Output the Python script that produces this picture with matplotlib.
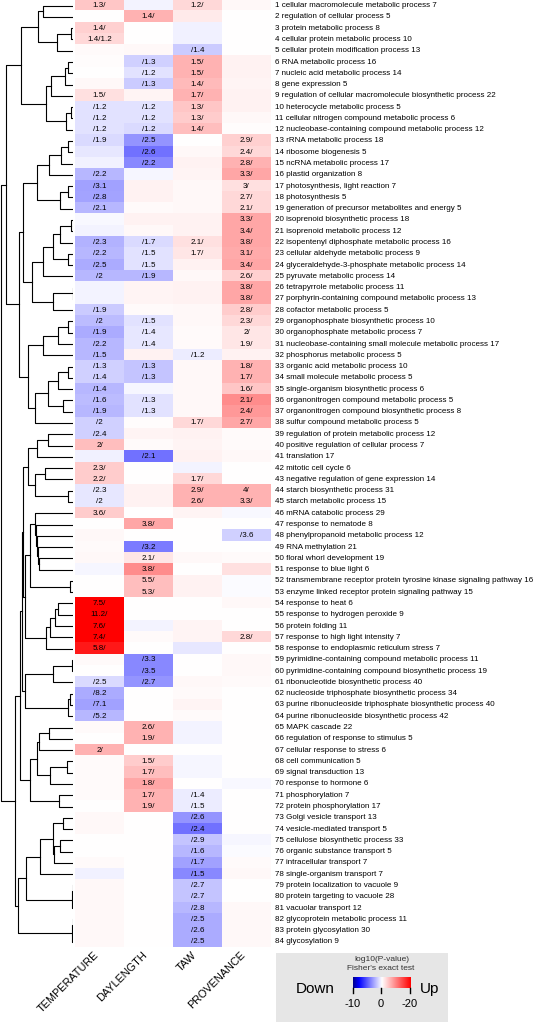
import matplotlib
matplotlib.use('Agg')
import matplotlib.pyplot as plt
import numpy as np
from matplotlib.colors import LinearSegmentedColormap, TwoSlopeNorm

plt.rcParams['font.family'] = ['Liberation Sans', 'DejaVu Sans']

columns = ['TEMPERATURE', 'DAYLENGTH', 'TAW', 'PROVENANCE']

terms = [
    "cellular macromolecule metabolic process 7", "regulation of cellular process 5",
    "protein metabolic process 8", "cellular protein metabolic process 10",
    "cellular protein modification process 13", "RNA metabolic process 16",
    "nucleic acid metabolic process 14", "gene expression 5",
    "regulation of cellular macromolecule biosynthetic process 22", "heterocycle metabolic process 5",
    "cellular nitrogen compound metabolic process 6", "nucleobase-containing compound metabolic process 12",
    "rRNA metabolic process 18", "ribosome biogenesis 5", "ncRNA metabolic process 17",
    "plastid organization 8", "photosynthesis, light reaction 7", "photosynthesis 5",
    "generation of precursor metabolites and energy 5", "isoprenoid biosynthetic process 18",
    "isoprenoid metabolic process 12", "isopentenyl diphosphate metabolic process 16",
    "cellular aldehyde metabolic process 9", "glyceraldehyde-3-phosphate metabolic process 14",
    "pyruvate metabolic process 14", "tetrapyrrole metabolic process 11",
    "porphyrin-containing compound metabolic process 13", "cofactor metabolic process 5",
    "organophosphate biosynthetic process 10", "organophosphate metabolic process 7",
    "nucleobase-containing small molecule metabolic process 17", "phosphorus metabolic process 5",
    "organic acid metabolic process 10", "small molecule metabolic process 5",
    "single-organism biosynthetic process 6", "organonitrogen compound metabolic process 5",
    "organonitrogen compound biosynthetic process 8", "sulfur compound metabolic process 5",
    "regulation of protein metabolic process 12", "positive regulation of cellular process 7",
    "translation 17", "mitotic cell cycle 6", "negative regulation of gene expression 14",
    "starch biosynthetic process 31", "starch metabolic process 15", "mRNA catabolic process 29",
    "response to nematode 8", "phenylpropanoid metabolic process 12", "RNA methylation 21",
    "floral whorl development 19", "response to blue light 6",
    "transmembrane receptor protein tyrosine kinase signaling pathway 16",
    "enzyme linked receptor protein signaling pathway 15", "response to heat 6",
    "response to hydrogen peroxide 9", "protein folding 11", "response to high light intensity 7",
    "response to endoplasmic reticulum stress 7", "pyrimidine-containing compound metabolic process 11",
    "pyrimidine-containing compound biosynthetic process 19", "ribonucleotide biosynthetic process 40",
    "nucleoside triphosphate biosynthetic process 34",
    "purine ribonucleoside triphosphate biosynthetic process 40",
    "purine ribonucleoside biosynthetic process 42", "MAPK cascade 22",
    "regulation of response to stimulus 5", "cellular response to stress 6", "cell communication 5",
    "signal transduction 13", "response to hormone 6", "phosphorylation 7",
    "protein phosphorylation 17", "Golgi vesicle transport 13", "vesicle-mediated transport 5",
    "cellulose biosynthetic process 33", "organic substance transport 5", "intracellular transport 7",
    "single-organism transport 7", "protein localization to vacuole 9", "protein targeting to vacuole 28",
    "vacuolar transport 12", "glycoprotein metabolic process 11", "protein glycosylation 30",
    "glycosylation 9",
]

# cell labels: up/down -log10 p, per row (TEMPERATURE, DAYLENGTH, TAW, PROVENANCE)
labels = [
    ["1.3/", "", "1.2/", ""], ["", "1.4/", "", ""], ["1.4/", "", "", ""], ["1.4/1.2", "", "", ""],
    ["", "", "/1.4", ""], ["", "/1.3", "1.5/", ""], ["", "/1.2", "1.5/", ""], ["", "/1.3", "1.4/", ""],
    ["1.5/", "", "1.7/", ""], ["/1.2", "/1.2", "1.3/", ""], ["/1.2", "/1.2", "1.3/", ""],
    ["/1.2", "/1.2", "1.4/", ""], ["/1.9", "/2.5", "", "2.9/"], ["", "/2.6", "", "2.4/"],
    ["", "/2.2", "", "2.8/"], ["/2.2", "", "", "3.3/"], ["/3.1", "", "", "3/"], ["/2.8", "", "", "2.7/"],
    ["/2.1", "", "", "2.1/"], ["", "", "", "3.3/"], ["", "", "", "3.4/"], ["/2.3", "/1.7", "2.1/", "3.8/"],
    ["/2.2", "/1.5", "1.7/", "3.1/"], ["/2.5", "/1.5", "", "3.4/"], ["/2", "/1.9", "", "2.6/"],
    ["", "", "", "3.8/"], ["", "", "", "3.8/"], ["/1.9", "", "", "2.8/"], ["/2", "/1.5", "", "2.3/"],
    ["/1.9", "/1.4", "", "2/"], ["/2.2", "/1.4", "", "1.9/"], ["/1.5", "", "/1.2", ""],
    ["/1.3", "/1.3", "", "1.8/"], ["/1.4", "/1.3", "", "1.7/"], ["/1.4", "", "", "1.6/"],
    ["/1.6", "/1.3", "", "2.1/"], ["/1.9", "/1.3", "", "2.4/"], ["/2", "", "1.7/", "2.7/"],
    ["/2.4", "", "", ""], ["2/", "", "", ""], ["", "/2.1", "", ""], ["2.3/", "", "", ""],
    ["2.2/", "", "1.7/", ""], ["/2.3", "", "2.9/", "4/"], ["/2", "", "2.6/", "3.3/"],
    ["3.6/", "", "", ""], ["", "3.8/", "", ""], ["", "", "", "/3.6"], ["", "/3.2", "", ""],
    ["", "2.1/", "", ""], ["", "3.8/", "", ""], ["", "5.5/", "", ""], ["", "5.3/", "", ""],
    ["7.5/", "", "", ""], ["11.2/", "", "", ""], ["7.6/", "", "", ""], ["7.4/", "", "", "2.8/"],
    ["5.8/", "", "", ""], ["", "/3.3", "", ""], ["", "/3.5", "", ""], ["/2.5", "/2.7", "", ""],
    ["/8.2", "", "", ""], ["/7.1", "", "", ""], ["/5.2", "", "", ""], ["", "2.6/", "", ""],
    ["", "1.9/", "", ""], ["2/", "", "", ""], ["", "1.5/", "", ""], ["", "1.7/", "", ""],
    ["", "1.8/", "", ""], ["", "1.7/", "/1.4", ""], ["", "1.9/", "/1.5", ""], ["", "", "/2.6", ""],
    ["", "", "/2.4", ""], ["", "", "/2.9", ""], ["", "", "/1.6", ""], ["", "", "/1.7", ""],
    ["", "", "/1.5", ""], ["", "", "/2.7", ""], ["", "", "/2.7", ""], ["", "", "/2.8", ""],
    ["", "", "/2.5", ""], ["", "", "/2.6", ""], ["", "", "/2.5", ""],
]

# colour score per cell (negative = down/blue, positive = up/red)
shade = [
    [0.22, -0.05, 0.15, 0.03], [0.0, 0.3, 0.08, 0.0], [0.18, 0.0, -0.06, 0.0], [0.15, 0.0, -0.06, 0.0],
    [0.02, 0.03, -0.22, 0.0], [0.01, -0.2, 0.3, 0.05], [0.0, -0.12, 0.3, 0.05], [0.03, -0.22, 0.27, 0.04],
    [0.12, 0.04, 0.3, 0.05], [-0.12, -0.12, 0.22, 0.05], [-0.12, -0.12, 0.2, 0.03], [-0.12, -0.15, 0.25, 0.01],
    [-0.15, -0.45, 0.0, 0.18], [-0.1, -0.6, 0.03, 0.15], [-0.06, -0.5, 0.05, 0.3], [-0.3, -0.04, 0.04, 0.35],
    [-0.4, 0.05, 0.03, 0.12], [-0.38, 0.05, 0.03, 0.15], [-0.3, 0.02, 0.03, 0.15], [-0.03, 0.05, 0.05, 0.35],
    [-0.05, 0.03, 0.05, 0.35], [-0.32, -0.15, 0.12, 0.35], [-0.3, -0.12, 0.1, 0.33], [-0.35, -0.12, 0.05, 0.35],
    [-0.3, -0.3, 0.03, 0.18], [-0.05, 0.04, 0.05, 0.35], [-0.05, 0.04, 0.05, 0.35], [-0.22, 0.02, 0.03, 0.2],
    [-0.28, -0.12, 0.03, 0.15], [-0.35, -0.1, 0.02, 0.1], [-0.3, -0.1, 0.02, 0.1], [-0.3, 0.05, -0.08, 0.05],
    [-0.2, -0.25, 0.03, 0.3], [-0.2, -0.25, 0.03, 0.3], [-0.3, -0.04, 0.03, 0.22], [-0.28, -0.12, 0.03, 0.45],
    [-0.3, -0.12, 0.03, 0.4], [-0.2, 0.01, 0.15, 0.35], [-0.2, 0.04, 0.05, 0.02], [0.25, 0.02, 0.04, 0.02],
    [-0.06, -0.6, 0.05, 0.03], [0.2, 0.0, -0.05, 0.0], [0.2, 0.0, 0.15, 0.0], [-0.1, 0.05, 0.3, 0.3],
    [-0.1, 0.05, 0.3, 0.3], [0.2, 0.0, 0.04, -0.03], [0.0, 0.35, 0.0, 0.0], [0.03, 0.0, 0.0, -0.2],
    [0.02, -0.55, 0.0, 0.0], [0.03, 0.1, 0.03, 0.02], [-0.04, 0.45, 0.0, 0.12], [0.0, 0.25, 0.05, -0.02],
    [0.0, 0.25, 0.05, -0.02], [1.0, 0.0, 0.0, 0.03], [1.0, 0.0, 0.0, 0.0], [1.0, -0.05, 0.04, 0.0],
    [1.0, 0.02, 0.04, 0.15], [0.9, 0.0, -0.1, 0.0], [0.02, -0.5, 0.0, 0.03], [0.0, -0.5, 0.0, 0.03],
    [-0.15, -0.45, 0.03, 0.02], [-0.35, 0.0, 0.02, 0.0], [-0.4, 0.0, 0.04, 0.0], [-0.3, 0.0, 0.02, 0.0],
    [0.02, 0.3, -0.05, 0.0], [0.0, 0.3, -0.05, 0.0], [0.3, 0.0, 0.0, 0.0], [0.02, 0.2, -0.04, 0.0],
    [0.02, 0.25, -0.04, 0.0], [0.02, 0.35, 0.0, -0.03], [0.02, 0.3, -0.08, 0.0], [0.0, 0.3, -0.08, 0.0],
    [0.03, 0.0, -0.45, 0.0], [0.03, 0.0, -0.6, 0.0], [0.0, 0.0, -0.25, -0.04], [0.0, 0.0, -0.3, -0.02],
    [0.02, 0.0, -0.4, 0.02], [-0.06, 0.0, -0.5, 0.03], [0.03, 0.0, -0.25, 0.0], [0.03, 0.0, -0.25, 0.0],
    [0.03, 0.0, -0.3, 0.03], [0.03, 0.0, -0.35, 0.03], [0.03, 0.0, -0.35, 0.03], [0.03, 0.0, -0.35, 0.03],
]

# dendrogram: [height, upper, lower], leaves are row numbers
g1 = [52, [35, [30, 1, 2], [16, [2, 3, 4], 5]],
      [27, [22, [8, [5, 6, 7], 8], 9], [7, [2, 10, 11], 12]]]
g2a = [50, [36, [24, [12, [5, 13, 14], 15], 16], [13, [5, 17, 18], 19]],
       [41, [30, [20, [13, [2, 20, 21], 22], [5, 23, 24]], 25], [20, [0.5, 26, 27], 28]]]
g2b = [45, [30, [15, [5, 29, 30], 31], 32],
       [38, [25, [15, [5, 33, 34], 35], [10, 36, 37]], 38]]
g2 = [54, g2a, g2b]
g3a = [51, [50, [45, [36, [25, 39, 40], 41], [38, [28, 42, 43], [5, 44, 45]]],
            [48, [43, [38, 46, [37, 47, [36, 48, [35, 49, [34, 50, 51]]]]], [3, 52, 53]],
             [27, [23, [18, [15, 54, 55], 56], 57], 58]]],
       [48, [20, [1, 59, 60], 61], [5, [3, 62, 63], 64]]]
g3b = [43, [36, [34, [24, 65, 66], 67], [23, [6, 68, 69], 70]], [14, 71, 72]]
g3c = [55, [47, [33, [20, [10, 73, 74], [19, [13, 75, 76], 77]], 78], [1, [0.5, 79, 80], 81]],
       [1, [0.5, 82, 83], 84]]
tree = [72, [67, g1, g2], [58, [53, g3a, g3b], g3c]]

nrow = len(terms)
W, H = 536, 1022
fig = plt.figure(figsize=(W / 100, H / 100), dpi=100)

hm_left, hm_right, hm_top, hm_bot = 75, 271, 0, 947.5
ax = fig.add_axes([hm_left / W, 1 - hm_bot / H, (hm_right - hm_left) / W, (hm_bot - hm_top) / H])
cmap = LinearSegmentedColormap.from_list('bwr2', [(0, '#00008b'), (0.1, '#0000ff'), (0.5, '#ffffff'), (1, '#ff0000')])
norm = TwoSlopeNorm(vmin=-1.35, vcenter=0, vmax=1)
ax.imshow(np.array(shade), cmap=cmap, norm=norm, aspect='auto', interpolation='nearest',
          extent=(0, 4, nrow, 0))
ax.set_xlim(0, 4)
ax.set_ylim(nrow, 0)
ax.axis('off')

for i in range(nrow):
    for j in range(4):
        if labels[i][j]:
            ax.text(j + 0.5, i + 0.5, labels[i][j], ha='center', va='center', fontsize=5.8)
    ax.text(4.08, i + 0.5, "%d %s" % (i + 1, terms[i]), ha='left', va='center', fontsize=5.8,
            clip_on=False)

for j, c in enumerate(columns):
    ax.text(j + 0.52, nrow + 0.2, c, rotation=45, ha='right', va='top', fontsize=7.8, clip_on=False)

# dendrogram
axd = fig.add_axes([0, 1 - hm_bot / H, 73 / W, (hm_bot - hm_top) / H])
axd.set_xlim(73, 0)
axd.set_ylim(nrow, 0)
axd.axis('off')


def draw(node):
    if not isinstance(node, list):
        return node - 0.5, 0.0
    h, a, b = node
    ya, ha = draw(a)
    yb, hb = draw(b)
    axd.plot([ha, h, h, hb], [ya, ya, yb, yb], color='black', lw=0.8)
    return (ya + yb) / 2, h


draw(tree)

# legend box
axl = fig.add_axes([276 / W, 0, (448 - 276) / W, (1022 - 953) / H])
axl.set_facecolor('#e6e6e6')
axl.set_xticks([])
axl.set_yticks([])
for s in axl.spines.values():
    s.set_visible(False)
axl.text(382, 959, 'log10(P-value)', ha='center', va='center', fontsize=6, color='#333333')
axl.text(381, 968, "Fisher's exact test", ha='center', va='center', fontsize=6, color='#333333')
axl.text(315, 989, 'Down', ha='center', va='center', fontsize=11)
axl.text(430, 989, 'Up', ha='center', va='center', fontsize=11)
grad = np.linspace(-1, 1, 256).reshape(1, -1)
axl.imshow(grad, cmap=cmap, aspect='auto', extent=(353, 411, 988, 977))
for xt, lab in [(353, '-10'), (381, '0'), (410, '-20')]:
    axl.plot([xt, xt], [988, 993], color='black', lw=1)
    axl.text(xt, 1004, lab, ha='center', va='center', fontsize=8)
axl.set_xlim(276, 448)
axl.set_ylim(1022, 953)

fig.savefig('out.png', dpi=100)
